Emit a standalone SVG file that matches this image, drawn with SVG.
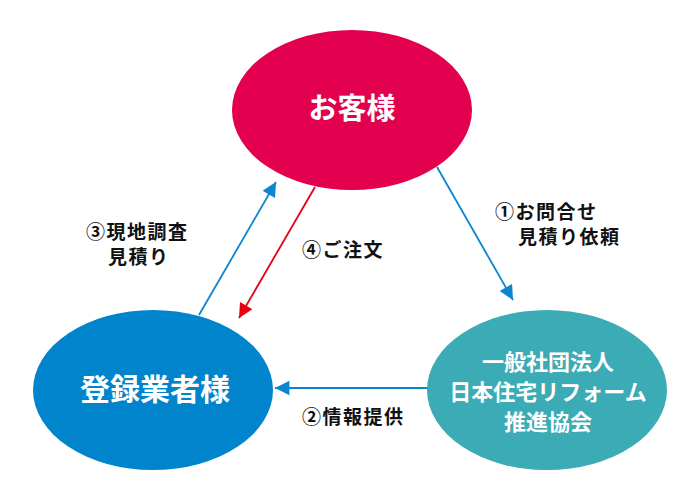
<svg xmlns="http://www.w3.org/2000/svg" width="700" height="500" viewBox="0 0 700 500">
<style>
.lbl{font-family:"Noto Sans CJK JP","Noto Sans",sans-serif;font-weight:bold;font-size:19px;fill:#111;letter-spacing:1.5px}
.nt{font-family:"Noto Sans CJK JP","Noto Sans",sans-serif;font-weight:bold;fill:#fff;text-anchor:middle}
.blue{stroke:#0A85CF;stroke-width:1.8;fill:none}
.red{stroke:#E60012;stroke-width:1.8;fill:none}
</style>
<defs>
<marker id="ab" viewBox="0 0 10 10" refX="10" refY="5" markerWidth="9.5" markerHeight="8" markerUnits="strokeWidth" orient="auto"><path d="M0,0L10,5L0,10z" fill="#0A85CF"/></marker>
<marker id="ar" viewBox="0 0 10 10" refX="10" refY="5" markerWidth="9.5" markerHeight="8" markerUnits="strokeWidth" orient="auto"><path d="M0,0L10,5L0,10z" fill="#E60012"/></marker>
</defs>
<rect width="700" height="500" fill="#fff"/>
<g id="connectors">
<line class="blue" x1="437" y1="167" x2="513" y2="300" marker-end="url(#ab)"/>
<line class="blue" x1="428" y1="388" x2="275" y2="388" marker-end="url(#ab)"/>
<line class="blue" x1="199" y1="315" x2="276" y2="182" marker-end="url(#ab)"/>
<line class="red" x1="315" y1="187" x2="239" y2="318" marker-end="url(#ar)"/>
<text class="lbl" x="495" y="219">①お問合せ</text>
<text class="lbl" x="518" y="244">見積り依頼</text>
<text class="lbl" x="302" y="257">④ご注文</text>
<text class="lbl" x="86" y="239">③現地調査</text>
<text class="lbl" x="108" y="264">見積り</text>
<text class="lbl" x="302" y="424">②情報提供</text>
</g>
<g id="customer">
<ellipse cx="352" cy="110" rx="120" ry="80" fill="#E2004F"/>
<text class="nt" x="352" y="119" font-size="29">お客様</text>
</g>
<g id="contractor">
<ellipse cx="153" cy="390" rx="120" ry="80" fill="#0085CC"/>
<text class="nt" x="155" y="400" font-size="30">登録業者様</text>
</g>
<g id="association">
<ellipse cx="547" cy="390" rx="120" ry="80" fill="#3BABB5"/>
<text class="nt" x="548" y="370" font-size="22">一般社団法人</text>
<text class="nt" x="548" y="400" font-size="22">日本住宅リフォーム</text>
<text class="nt" x="548" y="430" font-size="22">推進協会</text>
</g>
</svg>
